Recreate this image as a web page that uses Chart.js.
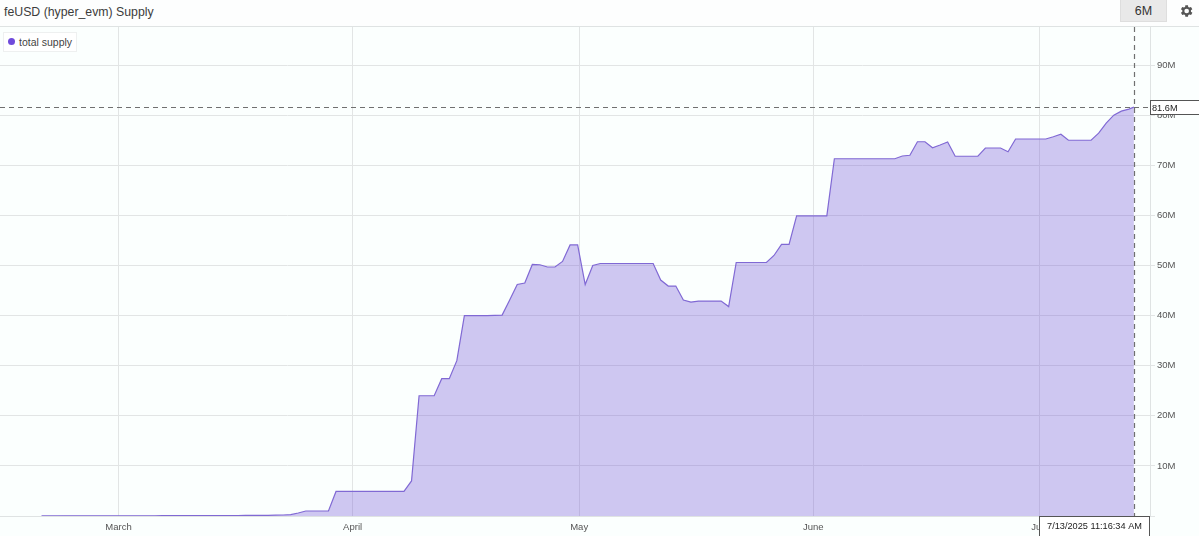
<!DOCTYPE html>
<html>
<head>
<meta charset="utf-8">
<style>
  html, body { margin: 0; padding: 0; background: #fbfffe; overflow: hidden; }
  body { width: 1199px; height: 536px; position: relative; font-family: "Liberation Sans", sans-serif; color: #444; }
  #header { position: absolute; left: 0; top: 0; width: 1199px; height: 26px; background: #fdfefe; border-bottom: 1px solid #dfe3e3; }
  #title { position: absolute; left: 4px; top: 3px; font-size: 12.3px; line-height: 18px; color: #3c3c3c; white-space: nowrap; }
  #range { position: absolute; left: 1120px; top: 0; width: 47px; height: 22px; background: #e9e9e9; border: 1px solid #dedede; border-top: 0; box-sizing: border-box; font-size: 12.5px; line-height: 22px; text-align: center; color: #333; }
  #gear { position: absolute; left: 1178px; top: 3px; width: 16px; height: 16px; }
  #wrap { position: absolute; left: 0; top: 27px; width: 1199px; height: 509px; }
  #legend { position: absolute; left: 3px; top: 32px; width: 74px; height: 20px; box-sizing: border-box; background: #fff; border: 1px solid #eef0f0; font-size: 10.5px; line-height: 18px; color: #444; padding-left: 15px; white-space: nowrap; }
  #legend i { position: absolute; left: 4px; top: 5px; width: 7px; height: 7px; border-radius: 50%; background: #6f4bdb; }
</style>
</head>
<body>
<div id="header">
  <div id="title">feUSD (hyper_evm) Supply</div>
  <div id="range">6M</div>
  <svg id="gear" viewBox="0 0 24 24"><path fill="#555" d="M19.4 13a7.5 7.5 0 0 0 0-2l2.1-1.6-2-3.5-2.5 1a7.6 7.6 0 0 0-1.7-1L15 3.2h-4l-.4 2.7a7.6 7.6 0 0 0-1.7 1l-2.5-1-2 3.5L6.500 11a7.5 7.5 0 0 0 0 2l-2.100 1.600 2 3.500 2.500-1a7.600 7.600 0 0 0 1.700 1l.4 2.700h4l.4-2.700a7.600 7.600 0 0 0 1.700-1l2.500 1 2-3.500zM13 15.500a3.500 3.500 0 1 1 0-7 3.500 3.500 0 0 1 0 7z"/></svg>
</div>
<div id="wrap"><canvas id="chart"></canvas></div>
<div id="legend"><i></i><span id="legendText"></span></div>

<script src="https://cdn.jsdelivr.net/npm/chart.js@4/dist/chart.umd.js"></script>
<script>
const seriesName = "total supply";
const monthLabels = ["March", "April", "May", "June", "July"];
const monthDays = [0, 31, 61, 92, 122]; // days since March 1
const yTicks = [0, 10, 20, 30, 40, 50, 60, 70, 80, 90];

// daily readings in millions, first one is Feb 19
const firstDay = -10.2;
const supply = [
  0.02, 0.02, 0.02, 0.03, 0.03, 0.03, 0.03, 0.04, 0.04, 0.04,
  0.04, 0.05, 0.05, 0.05, 0.05, 0.05, 0.06, 0.06, 0.06, 0.07,
  0.07, 0.07, 0.08, 0.08, 0.09, 0.1, 0.1, 0.11, 0.12, 0.13,
  0.14, 0.17, 0.2, 0.26, 0.6, 1, 1, 1, 1, 4.9,
  4.9, 4.9, 4.9, 4.9, 4.9, 4.9, 4.9, 4.9, 4.9, 7,
  24, 24, 24, 27.4, 27.4, 31, 40, 40, 40, 40,
  40.05, 40.1, 43.1, 46.2, 46.5, 50.2, 50.15, 49.7, 49.7, 50.8,
  54.1, 54.1, 46.2, 50, 50.4, 50.4, 50.4, 50.4, 50.4, 50.4,
  50.4, 50.4, 47.1, 45.9, 45.9, 43.1, 42.7, 42.9, 42.9, 42.9,
  42.9, 41.8, 50.6, 50.6, 50.6, 50.6, 50.6, 52, 54.2, 54.2,
  59.9, 59.9, 59.9, 59.9, 59.9, 71.3, 71.3, 71.3, 71.3, 71.3,
  71.3, 71.3, 71.3, 71.3, 71.85, 72, 74.7, 74.7, 73.5, 74.05,
  74.65, 71.8, 71.8, 71.8, 71.8, 73.45, 73.45, 73.45, 72.7, 75.25,
  75.25, 75.25, 75.25, 75.25, 75.7, 76.2, 75, 75, 75, 75,
  76.4, 78.4, 80, 80.8, 81.2
];

// latest reading, shown by the crosshair
const lastValue = 81.6;
const lastDay = 134.47;
const lastValueLabel = "81.6M";
const lastTimeLabel = "7/13/2025 11:16:34 AM";

document.getElementById("legendText").textContent = seriesName;

const points = supply.map((v, i) => ({ x: firstDay + i, y: v }));
points.push({ x: lastDay, y: lastValue });

const fontFamily = "'Liberation Sans', sans-serif";

// dropping the label overhang keeps the plot flush with the canvas edges
const noPadding = (axis) => {
  axis.paddingTop = 0;
  axis.paddingBottom = 0;
  axis.paddingLeft = 0;
  axis.paddingRight = 0;
};

// dashed crosshair and the two value boxes
const crosshair = {
  id: "crosshair",
  afterDraw(chart) {
    const { ctx, chartArea, scales, width, height } = chart;
    const px = Math.round(scales.x.getPixelForValue(lastDay)) + 0.5;
    const py = Math.round(scales.y.getPixelForValue(lastValue)) + 0.5;

    ctx.save();
    ctx.strokeStyle = "#707070";
    ctx.lineWidth = 1.2;
    ctx.setLineDash([5, 4]);
    ctx.beginPath();
    ctx.moveTo(chartArea.left, py);
    ctx.lineTo(chartArea.right, py);
    ctx.moveTo(px, chartArea.top);
    ctx.lineTo(px, chartArea.bottom);
    ctx.stroke();
    ctx.setLineDash([]);
    ctx.lineWidth = 1;

    ctx.font = "9.2px " + fontFamily;
    ctx.textBaseline = "middle";
    ctx.fillStyle = "#fff";
    ctx.strokeStyle = "#555";

    // value box on the y axis
    ctx.fillRect(chartArea.right, py - 7, width - chartArea.right, 14);
    ctx.strokeRect(chartArea.right + 0.5, py - 7, width - chartArea.right + 2, 14);
    ctx.fillStyle = "#222";
    ctx.textAlign = "left";
    ctx.fillText(lastValueLabel, chartArea.right + 2, py + 0.5);

    // time box on the x axis
    ctx.fillStyle = "#fff";
    ctx.fillRect(1040, chartArea.bottom + 1, 109, height - chartArea.bottom);
    ctx.strokeRect(1039.5, chartArea.bottom + 0.5, 110, height - chartArea.bottom + 2);
    ctx.fillStyle = "#222";
    ctx.textAlign = "center";
    ctx.fillText(lastTimeLabel, 1094.5, chartArea.bottom + 10.5);
    ctx.restore();
  }
};

new Chart(document.getElementById("chart"), {
  type: "line",
  data: {
    datasets: [
      {
        label: seriesName,
        data: points,
        borderColor: "#8069d4",
        backgroundColor: "rgba(112, 80, 214, 0.32)",
        borderWidth: 1.2,
        pointRadius: 0,
        tension: 0,
        fill: "origin",
      },
    ],
  },
  options: {
    responsive: true,
    maintainAspectRatio: false,
    animation: false,
    layout: { padding: 0 },
    plugins: {
      legend: { display: false },
      tooltip: { enabled: false },
    },
    scales: {
      x: {
        type: "linear",
        min: -15.7,
        max: 136.6,
        afterBuildTicks: (axis) => {
          axis.ticks = monthDays.map((d) => ({ value: d }));
        },
        afterFit: (axis) => {
          axis.height = 20;
          noPadding(axis);
        },
        ticks: {
          autoSkip: false,
          maxRotation: 0,
          padding: 6,
          color: "#555",
          font: { family: fontFamily, size: 9.5 },
          callback: (v) => monthLabels[monthDays.indexOf(v)],
        },
        grid: { color: "#e2e5e5", drawTicks: false },
        border: { color: "#dfe3e3" },
      },
      y: {
        position: "right",
        min: 0,
        max: 97.6,
        afterBuildTicks: (axis) => {
          axis.ticks = yTicks.map((v) => ({ value: v }));
        },
        afterFit: (axis) => {
          axis.width = 49;
          noPadding(axis);
        },
        ticks: {
          padding: 2,
          color: "#555",
          font: { family: fontFamily, size: 9.5 },
          callback: (v) => (v === 0 ? "" : v + "M"),
        },
        grid: { color: "#e2e5e5", tickLength: 5 },
        border: { color: "#dfe3e3" },
      },
    },
  },
  plugins: [crosshair],
});
</script>
</body>
</html>
